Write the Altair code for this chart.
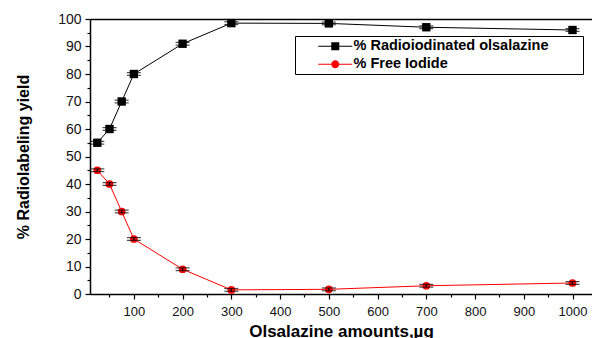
import altair as alt
import pandas as pd

amounts = [25, 50, 75, 100, 200, 300, 500, 700, 1000]
radio = [55, 60, 70, 80, 91, 98.5, 98.4, 97, 96]
free = [45, 40, 30, 20, 9, 1.5, 1.7, 3, 4]
radio_err = [0.5, 0.5, 0.5, 0.5, 0.5, 0.5, 0.5, 0.5, 0.5]
free_err = [0.5, 0.5, 0.5, 0.5, 0.5, 0.5, 0.5, 0.5, 0.5]
series_names = ["% Radioiodinated olsalazine", "% Free Iodide"]
series_colors = ["black", "red"]
x_major = [100, 200, 300, 400, 500, 600, 700, 800, 900, 1000]
x_minor = [50, 150, 250, 350, 450, 550, 650, 750, 850, 950]
y_major = [0, 10, 20, 30, 40, 50, 60, 70, 80, 90, 100]
y_minor = [5, 15, 25, 35, 45, 55, 65, 75, 85, 95]
x_title = "Olsalazine amounts,µg"
y_title = "% Radiolabeling yield"

rows = []
for name, vals, errs in [(series_names[0], radio, radio_err), (series_names[1], free, free_err)]:
    for a, v, e in zip(amounts, vals, errs):
        rows.append({"x": a, "y": v, "lo": v - e, "hi": v + e, "series": name})
df = pd.DataFrame(rows)

FONT = "Liberation Sans"
xscale = alt.Scale(domain=[10, 1040], nice=False, zero=False)
yscale = alt.Scale(domain=[0, 100], nice=False, zero=False)

base = alt.Chart(df)

def X(axis=None):
    return alt.X("x:Q", scale=xscale, axis=axis)

def Y(axis=None):
    return alt.Y("y:Q", scale=yscale, axis=axis)

main_x_axis = alt.Axis(values=x_major, orient="bottom", title=x_title, grid=False, format="d",
                       tickSize=5, tickWidth=1.2, tickColor="black", domainColor="black", domainWidth=1.5,
                       labelFont=FONT, labelFontSize=13, labelColor="#111", labelPadding=6,
                       titleFont=FONT, titleFontSize=17, titleFontWeight="bold", titleColor="black",
                       titlePadding=5, labelFlush=False)
main_y_axis = alt.Axis(values=y_major, orient="left", title=y_title, grid=False, format="d",
                       tickSize=5, tickWidth=1.2, tickColor="black", domainColor="black", domainWidth=1.5,
                       labelFont=FONT, labelFontSize=14, labelColor="#111", labelPadding=4,
                       titleFont=FONT, titleFontSize=16, titleFontWeight="bold", titleColor="black",
                       titlePadding=26, labelFlush=False)
minor_x_axis = alt.Axis(values=x_minor, orient="bottom", title=None, grid=False, labels=False,
                        domain=False, tickSize=3, tickWidth=1.2, tickColor="black")
minor_y_axis = alt.Axis(values=y_minor, orient="left", title=None, grid=False, labels=False,
                        domain=False, tickSize=3, tickWidth=1.2, tickColor="black")
top_axis = alt.Axis(orient="top", title=None, grid=False, labels=False, ticks=False,
                    domain=True, domainColor="black", domainWidth=1.5)

red_line = base.transform_filter(alt.datum.series == series_names[1]).mark_line(
    color="red", strokeWidth=1).encode(x=X(), y=Y())
black_line = base.transform_filter(alt.datum.series == series_names[0]).mark_line(
    color="black", strokeWidth=1).encode(x=X(main_x_axis), y=Y(main_y_axis))

minor_layer = base.mark_point(opacity=0).encode(x=X(minor_x_axis), y=Y(minor_y_axis))
top_layer = base.mark_point(opacity=0).encode(x=X(top_axis), y=Y())

black_pts = base.transform_filter(alt.datum.series == series_names[0]).mark_point(
    filled=True, shape="square", size=70, color="black", opacity=1).encode(x=X(), y=Y())
red_pts = base.transform_filter(alt.datum.series == series_names[1]).mark_point(
    filled=True, shape="circle", size=60, color="red", opacity=1).encode(x=X(), y=Y())

errbars = base.mark_errorbar(ticks={"size": 14, "thickness": 1.2, "color": "black"},
                             rule={"strokeWidth": 1.2, "color": "black"}, color="black").encode(
    x=alt.X("x:Q", scale=xscale, axis=None),
    y=alt.Y("lo:Q", scale=yscale, axis=None),
    y2="hi:Q",
)

sq_path = "M-3.4,-0.1H3.4V0.1H-3.4Z M-0.8,-0.8H0.8V0.8H-0.8Z"
ci_path = "M-3.4,-0.1H3.4V0.1H-3.4Z M-0.8,0A0.8,0.8,0,1,1,0.8,0A0.8,0.8,0,1,1,-0.8,0Z"

pad = "\u00a0" * 5 + "\u2800"
legend = alt.Legend(title=None, orient="none", legendX=205, legendY=17, symbolSize=100,
                    symbolStrokeWidth=0, symbolOffset=30, labelOffset=11, padding=3, rowPadding=3,
                    strokeColor="black", fillColor="white", labelFont=FONT, labelFontSize=14.5,
                    labelFontWeight="bold", labelColor="black", symbolOpacity=1, labelLimit=0,
                    labelExpr="datum.label + '" + pad + "'")

legend_layer = base.mark_point(filled=True, opacity=0).encode(
    x=X(), y=Y(),
    color=alt.Color("series:N", scale=alt.Scale(domain=series_names, range=series_colors), legend=legend),
    shape=alt.Shape("series:N", scale=alt.Scale(domain=series_names, range=[sq_path, ci_path]), legend=legend),
)

chart = alt.layer(
    minor_layer, top_layer, black_line, red_line, black_pts, red_pts, errbars, legend_layer
).resolve_axis(x="independent", y="independent").properties(
    width=502, height=275,
    autosize=alt.AutoSizeParams(type="none"),
    padding={"left": 90, "top": 19, "right": 0, "bottom": 44},
).configure_view(stroke=None).configure(background="white")

chart.save("out.html", embed_options={"renderer": "svg", "actions": False})
